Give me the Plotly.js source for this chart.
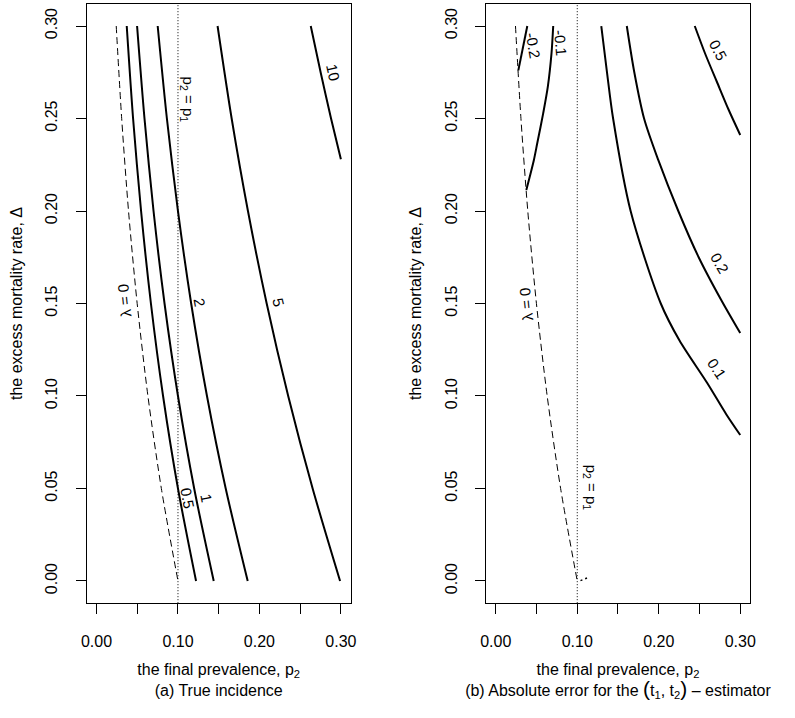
<!DOCTYPE html>
<html>
<head>
<meta charset="utf-8">
<script src="https://cdn.plot.ly/plotly-3.0.1.min.js"></script>
<style>html,body{margin:0;padding:0;background:#fff;}#chart{width:795px;height:718px;}</style>
</head>
<body>
<div id="chart"></div>
<script>
// ---------- data ----------
// common excess-mortality levels for the left-panel contours
var deltaLevels = [0.30, 0.25, 0.20, 0.15, 0.10, 0.05, 0.00];

// (a) true incidence contours: p2 at each delta level
var lambdaZeroP2 = [0.0242, 0.0309, 0.0393, 0.0499, 0.0631, 0.0796, 0.1000];
var inc05P2 = [0.0371, 0.0449, 0.0547, 0.0668, 0.0817, 0.1000, 0.1222];
var inc1P2  = [0.0498, 0.0589, 0.0700, 0.0835, 0.1000, 0.1199, 0.1439];
var inc2P2  = [0.0751, 0.0864, 0.1000, 0.1162, 0.1356, 0.1586, 0.1856];
var inc5P2  = [0.1486, 0.1659, 0.1859, 0.2089, 0.2353, 0.2653, 0.2990];
var inc10Delta = [0.300, 0.275, 0.250, 0.228];
var inc10P2    = [0.2630, 0.2751, 0.2879, 0.3000];

// (b) absolute error contours
var errM02Delta = [0.300, 0.288, 0.276];
var errM02P2    = [0.0387, 0.0332, 0.0277];
var errM01Delta = [0.300, 0.2852, 0.2672, 0.2528, 0.2366, 0.2276, 0.2114];
var errM01P2    = [0.0705, 0.0684, 0.0639, 0.0582, 0.0509, 0.0468, 0.0375];
var err01Delta = [0.300, 0.275, 0.250, 0.200, 0.150, 0.130, 0.107, 0.090, 0.0789];
var err01P2    = [0.1295, 0.1365, 0.1440, 0.1655, 0.2025, 0.2255, 0.2595, 0.2830, 0.3000];
var err02Delta = [0.300, 0.275, 0.250, 0.2276, 0.200, 0.175, 0.152, 0.134];
var err02P2    = [0.1608, 0.1700, 0.1820, 0.1994, 0.2240, 0.2490, 0.2765, 0.3000];
var err05Delta = [0.300, 0.285, 0.270, 0.255, 0.2411];
var err05P2    = [0.2442, 0.2570, 0.2712, 0.2855, 0.3000];
var errTinyDelta = [0.0002, 0.0016];
var errTinyP2    = [0.1040, 0.1120];

var p1Value = 0.10;
var axisTicks = [0.00, 0.05, 0.10, 0.15, 0.20, 0.25, 0.30];
var xTickText = ["0.00", "", "0.10", "", "0.20", "", "0.30"];
var yTickText = ["0.00", "0.05", "0.10", "0.15", "0.20", "0.25", "0.30"];

// ---------- traces ----------
var FONT = "Liberation Sans, Arial, Helvetica, sans-serif";
function solid(x, y, xa, ya) {
  return {x: x, y: y, xaxis: xa, yaxis: ya, type: "scatter", mode: "lines",
          line: {color: "#000", width: 2, shape: "spline", smoothing: 0.8},
          hoverinfo: "skip", showlegend: false};
}
function dashed(x, y, xa, ya) {
  return {x: x, y: y, xaxis: xa, yaxis: ya, type: "scatter", mode: "lines",
          line: {color: "#000", width: 1, dash: "7px,4px", shape: "spline", smoothing: 0.8},
          hoverinfo: "skip", showlegend: false};
}
function dotted(xa, ya) {
  return {x: [p1Value, p1Value], y: [-0.012, 0.312], xaxis: xa, yaxis: ya, type: "scatter",
          mode: "lines", line: {color: "#000", width: 1, dash: "1px,2px"},
          hoverinfo: "skip", showlegend: false};
}

var traces = [
  dotted("x", "y"),
  dashed(lambdaZeroP2, deltaLevels, "x", "y"),
  solid(inc05P2, deltaLevels, "x", "y"),
  solid(inc1P2, deltaLevels, "x", "y"),
  solid(inc2P2, deltaLevels, "x", "y"),
  solid(inc5P2, deltaLevels, "x", "y"),
  solid(inc10P2, inc10Delta, "x", "y"),

  dotted("x2", "y2"),
  dashed(lambdaZeroP2, deltaLevels, "x2", "y2"),
  {x: errM02P2, y: errM02Delta, xaxis: "x2", yaxis: "y2", type: "scatter", mode: "lines",
   line: {color: "#000", width: 2}, hoverinfo: "skip", showlegend: false},
  solid(errM01P2, errM01Delta, "x2", "y2"),
  solid(err01P2, err01Delta, "x2", "y2"),
  solid(err02P2, err02Delta, "x2", "y2"),
  solid(err05P2, err05Delta, "x2", "y2"),
  {x: errTinyP2, y: errTinyDelta, xaxis: "x2", yaxis: "y2", type: "scatter", mode: "lines",
   line: {color: "#000", width: 1.5, dash: "2px,3px"}, hoverinfo: "skip", showlegend: false}
];

// ---------- layout ----------
function xAxis(domain, anchor, title) {
  return {domain: domain, anchor: anchor, range: [-0.012, 0.312], autorange: false,
          tickmode: "array", tickvals: axisTicks, ticktext: xTickText,
          ticks: "outside", ticklen: 10, tickwidth: 1, tickcolor: "#000",
          showline: true, linecolor: "#000", linewidth: 1, mirror: true,
          showgrid: false, zeroline: false, ticklabelstandoff: 14,
          tickfont: {family: FONT, size: 16, color: "#000"},
          title: {text: title, font: {family: FONT, size: 16, color: "#000"}, standoff: 14}};
}
function yAxis(anchor) {
  return {domain: [0.1599, 0.9947], anchor: anchor, range: [-0.012, 0.312], autorange: false,
          tickmode: "array", tickvals: axisTicks, ticktext: yTickText, tickangle: -90,
          ticks: "outside", ticklen: 10, tickwidth: 1, tickcolor: "#000",
          showline: true, linecolor: "#000", linewidth: 1, mirror: true,
          showgrid: false, zeroline: false, ticklabelstandoff: 12,
          tickfont: {family: FONT, size: 16, color: "#000"},
          title: {text: "the excess mortality rate, \u0394", font: {family: FONT, size: 16, color: "#000"}, standoff: 16}};
}

function lab(text, x, y, xr, yr, ang, size) {
  return {text: text, x: x, y: y, xref: xr, yref: yr, showarrow: false, textangle: ang,
          font: {family: FONT, size: size || 15, color: "#000"}, xanchor: "center", yanchor: "middle"};
}

var annotations = [
  lab("10", 0.2900, 0.2746, "x", "y", 77),
  lab("2", 0.1270, 0.1508, "x", "y", 80),
  lab("5", 0.2240, 0.1508, "x", "y", 77),
  lab("1", 0.1345, 0.0449, "x", "y", 79),
  lab("0.5", 0.1112, 0.0449, "x", "y", 79),
  lab("\u03bb = 0", 0.0347, 0.1519, "x", "y", -96),
  lab("p<sub>2</sub> = p<sub>1</sub>", 0.1128, 0.260, "x", "y", 90),

  lab("-0.2", 0.0464, 0.2897, "x2", "y2", 80),
  lab("-0.1", 0.0802, 0.2908, "x2", "y2", 85),
  lab("0.5", 0.2735, 0.2870, "x2", "y2", 62),
  lab("0.2", 0.2740, 0.1719, "x2", "y2", 60),
  lab("0.1", 0.2715, 0.1151, "x2", "y2", 56),
  lab("\u03bb = 0", 0.0366, 0.1497, "x2", "y2", -96),
  lab("p<sub>2</sub> = p<sub>1</sub>", 0.1160, 0.0503, "x2", "y2", 90)
];

var BIG = '<span style="font-size:21px">';
var layout = {
  width: 795, height: 718,
  margin: {l: 0, r: 0, t: 0, b: 0},
  paper_bgcolor: "#fff", plot_bgcolor: "#fff",
  font: {family: FONT, size: 16, color: "#000"},
  xaxis: xAxis([0.1091, 0.4411], "y", "the final prevalence, p<sub>2</sub><br>(a) True incidence"),
  yaxis: yAxis("x"),
  xaxis2: xAxis([0.6113, 0.9434], "y2", "the final prevalence, p<sub>2</sub><br>(b) Absolute error for the " + BIG + "(</span>t<sub>1</sub>, t<sub>2</sub>" + BIG + ")</span> \u2013 estimator"),
  yaxis2: yAxis("x2"),
  annotations: annotations,
  showlegend: false
};

Plotly.newPlot("chart", traces, layout, {staticPlot: true, displayModeBar: false});
</script>
</body>
</html>
